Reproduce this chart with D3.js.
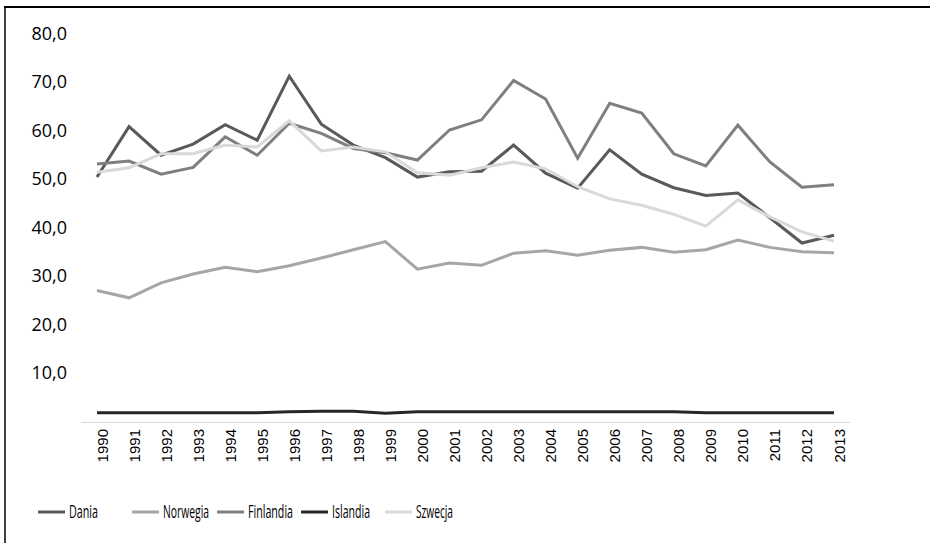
<!DOCTYPE html>
<html>
<head>
<meta charset="utf-8" />
<title>Kraje nordyckie</title>
<script src="https://d3js.org/d3.v7.min.js"></script>
<style>
  body { margin: 0; background: #fff; }
  svg { display: block; }
</style>
</head>
<body>
<svg id="viz"></svg>
<script>
// data
var years = ["1990","1991","1992","1993","1994","1995","1996","1997","1998","1999","2000","2001",
             "2002","2003","2004","2005","2006","2007","2008","2009","2010","2011","2012","2013"];

var dania     = [50.4, 60.8, 54.9, 57.2, 61.2, 58.0, 71.2, 61.3, 57.0, 54.4, 50.4, 51.5,
                 51.6, 57.0, 51.2, 48.1, 56.0, 51.0, 48.2, 46.6, 47.1, 42.0, 36.8, 38.4];
var norwegia  = [27.0, 25.5, 28.6, 30.4, 31.8, 30.9, 32.1, 33.7, 35.4, 37.1, 31.4, 32.7,
                 32.2, 34.7, 35.2, 34.3, 35.3, 35.9, 34.9, 35.4, 37.4, 35.9, 35.0, 34.8];
var finlandia = [53.1, 53.7, 51.0, 52.4, 58.7, 54.9, 61.5, 59.4, 56.3, 55.4, 53.9, 60.1,
                 62.2, 70.3, 66.5, 54.3, 65.6, 63.6, 55.2, 52.7, 61.1, 53.5, 48.3, 48.8];
var islandia  = [1.8, 1.8, 1.8, 1.8, 1.8, 1.8, 2.0, 2.1, 2.1, 1.7, 2.0, 2.0,
                 2.0, 2.0, 2.0, 2.0, 2.0, 2.0, 2.0, 1.8, 1.8, 1.8, 1.8, 1.8];
var szwecja   = [51.4, 52.3, 55.2, 55.2, 57.0, 56.6, 62.0, 55.8, 56.6, 55.6, 51.3, 50.8,
                 52.3, 53.5, 52.1, 48.4, 45.9, 44.6, 42.7, 40.3, 45.7, 42.2, 39.1, 37.2];

var seriesNames = ["Dania", "Norwegia", "Finlandia", "Islandia", "Szwecja"];
var seriesValues = [dania, norwegia, finlandia, islandia, szwecja];
var yTicks = [10, 20, 30, 40, 50, 60, 70, 80];

var colors = ["#595959", "#a6a6a6", "#7f7f7f", "#262626", "#d9d9d9"];

var width = 930, height = 543;

var svg = d3.select("#viz")
  .attr("width", width)
  .attr("height", height);

// frame (only top and left edges are visible in the picture)
svg.append("line")
  .attr("x1", 4).attr("x2", width).attr("y1", 7).attr("y2", 7)
  .attr("stroke", "#000").attr("stroke-width", 2);
svg.append("line")
  .attr("x1", 5).attr("x2", 5).attr("y1", 6).attr("y2", height)
  .attr("stroke", "#000").attr("stroke-width", 1.5);

var xScale = d3.scalePoint()
  .domain(years)
  .range([97, 834]);

var yScale = d3.scaleLinear()
  .domain([0, 80])
  .range([421.5, 33.5]);

// y axis labels, no line, no ticks
var yAxis = d3.axisLeft(yScale)
  .tickValues(yTicks)
  .tickSize(0)
  .tickPadding(0)
  .tickFormat(function(d) { return d3.format(".1f")(d).replace(".", ","); });

var gy = svg.append("g")
  .attr("transform", "translate(67,0)")
  .call(yAxis);
gy.select(".domain").remove();
gy.selectAll("text")
  .attr("font-family", "'Open Sans', sans-serif")
  .attr("font-size", 18)
  .attr("fill", "#000");

// x axis baseline
svg.append("line")
  .attr("x1", 81).attr("x2", 850)
  .attr("y1", 422.5).attr("y2", 422.5)
  .attr("stroke", "#d9d9d9").attr("stroke-width", 1);

// x labels, rotated
svg.append("g")
  .selectAll("text")
  .data(years)
  .enter().append("text")
  .attr("transform", function(d) {
    return "translate(" + (xScale(d) + 10.5) + ",429) rotate(-90)";
  })
  .attr("text-anchor", "end")
  .attr("font-family", "'Liberation Sans', Arial, sans-serif")
  .attr("font-size", 15)
  .attr("fill", "#000")
  .text(function(d) { return d; });

// lines
var line = d3.line()
  .x(function(d, i) { return xScale(years[i]); })
  .y(function(d) { return yScale(d); });

svg.append("g")
  .selectAll("path")
  .data(seriesValues)
  .enter().append("path")
  .attr("d", line)
  .attr("fill", "none")
  .attr("stroke", function(d, i) { return colors[i]; })
  .attr("stroke-width", 3)
  .attr("stroke-linejoin", "miter");

// legend
var legendX = [38, 132, 217, 301, 385];
var legendW = [29, 46, 45, 38, 37];
var legend = svg.append("g")
  .selectAll("g")
  .data(seriesNames)
  .enter().append("g")
  .attr("transform", function(d, i) { return "translate(" + legendX[i] + ",512)"; });

legend.append("line")
  .attr("x1", 0).attr("x2", 27)
  .attr("y1", 0).attr("y2", 0)
  .attr("stroke", function(d, i) { return colors[i]; })
  .attr("stroke-width", 3);

legend.append("text")
  .attr("x", 31)
  .attr("dy", "0.36em")
  .attr("font-family", "'Open Sans', sans-serif")
  .attr("font-size", 18)
  .attr("textLength", function(d, i) { return legendW[i]; })
  .attr("lengthAdjust", "spacingAndGlyphs")
  .attr("fill", "#000")
  .text(function(d) { return d; });
</script>
</body>
</html>
